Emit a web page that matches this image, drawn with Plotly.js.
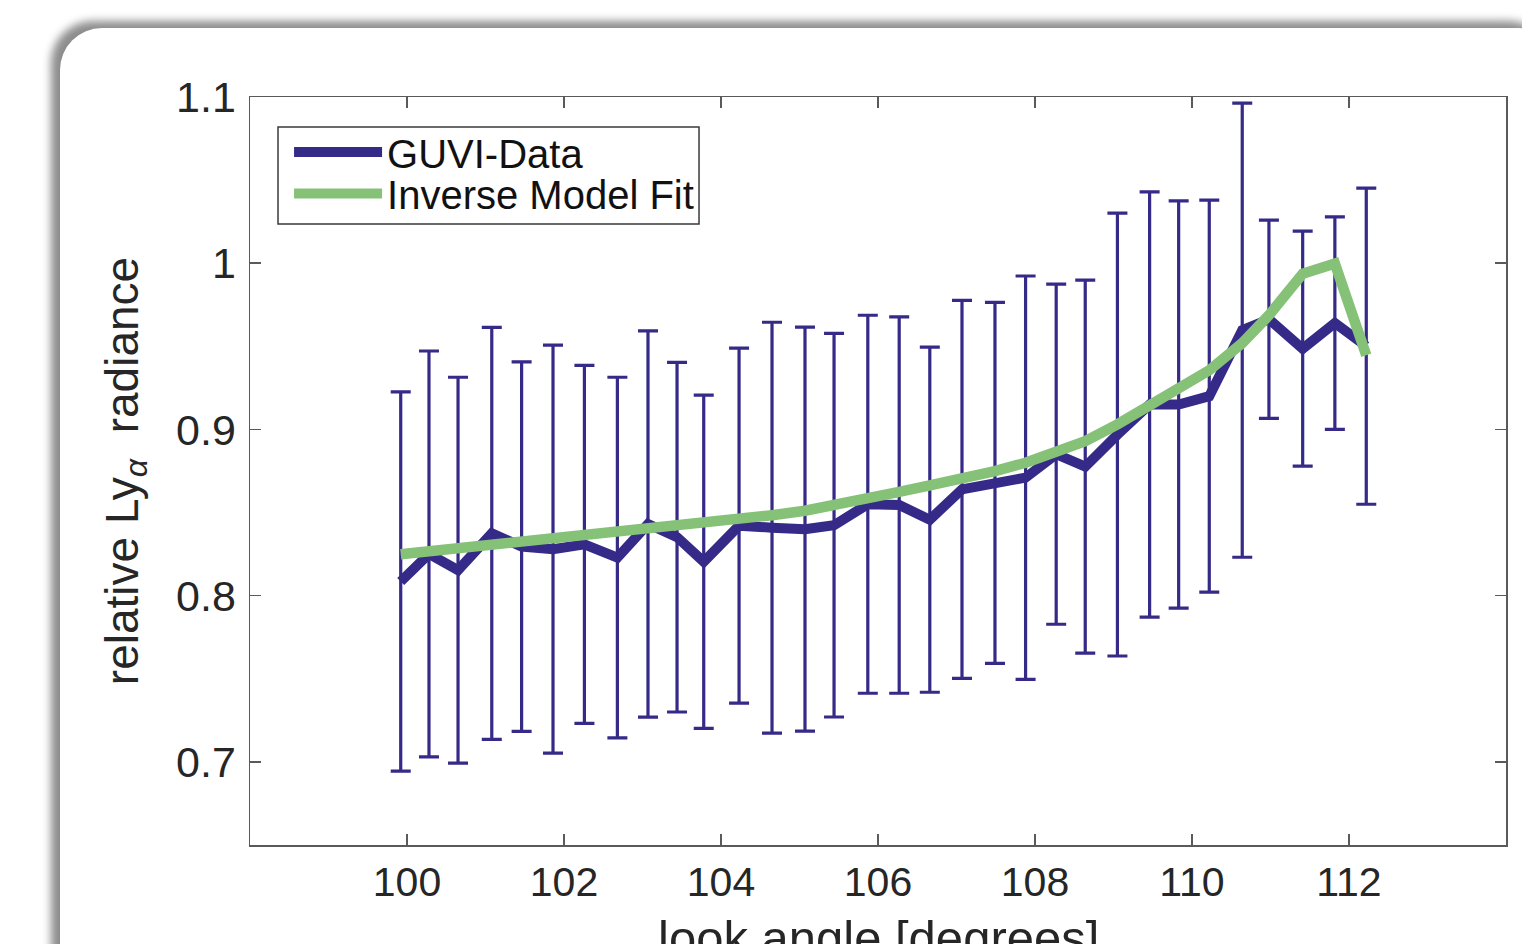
<!DOCTYPE html>
<html>
<head>
<meta charset="utf-8">
<script src="https://cdn.plot.ly/plotly-3.0.1.min.js"></script>
<style>
  html, body { margin: 0; padding: 0; background: #ffffff; width: 1522px; height: 944px; overflow: hidden; }
  #panel {
    position: absolute; left: 60px; top: 28px; width: 1500px; height: 1000px;
    background: #ffffff; border-radius: 42px;
    box-shadow: -9px -7px 9px rgba(0,0,0,0.45);
  }
  #chart { position: absolute; left: 0; top: 0; width: 1522px; height: 944px; }
</style>
</head>
<body>
<div id="panel"></div>
<div id="chart"></div>
<script>
// look angle [degrees]
const lookAngle = [99.92,100.28,100.65,101.08,101.46,101.86,102.26,102.68,103.07,103.44,103.78,104.23,104.65,105.07,105.44,105.87,106.27,106.66,107.07,107.49,107.88,108.27,108.64,109.05,109.46,109.83,110.22,110.64,110.98,111.41,111.82,112.22];
// GUVI data (relative Ly-alpha radiance) and its error
const guviData = [0.8085,0.8251,0.8153,0.8375,0.8295,0.8280,0.8309,0.8229,0.8431,0.8352,0.8204,0.8421,0.8409,0.8400,0.8424,0.8550,0.8545,0.8457,0.8640,0.8679,0.8710,0.8851,0.8776,0.8969,0.9150,0.9150,0.9200,0.9597,0.9663,0.9486,0.9640,0.9501];
const guviErr = [0.1141,0.1221,0.1161,0.1239,0.1111,0.1227,0.1077,0.1085,0.1162,0.1052,0.1002,0.1068,0.1236,0.1215,0.1154,0.1137,0.1132,0.1038,0.1137,0.1086,0.1213,0.1023,0.1122,0.1332,0.1279,0.1225,0.1179,0.1366,0.0596,0.0707,0.0639,0.0951];
// Inverse model fit
const modelFit = [0.8249,0.8267,0.8282,0.8300,0.8315,0.8333,0.8351,0.8372,0.8394,0.8412,0.8430,0.8454,0.8484,0.8511,0.8541,0.8583,0.8624,0.8664,0.8700,0.8749,0.8800,0.8869,0.8929,0.9031,0.9146,0.9236,0.9356,0.9519,0.9687,0.9937,0.9998,0.9446];

const xTickVals = [100,102,104,106,108,110,112];
const xTickText = ['100','102','104','106','108','110','112'];
const yTickVals = [0.7,0.8,0.9,1.0,1.1];
const yTickText = ['0.7','0.8','0.9','1','1.1'];

const seriesNames = ['GUVI-Data', 'Inverse Model Fit'];
const xTitle = 'look angle [degrees]';
const yTitle = 'relative Ly<sub><i>α</i></sub>\u00a0 radiance';

const BLUE = '#352a87';
const GREEN = '#86c178';
const FONT = 'Liberation Sans, Arial, Helvetica, sans-serif';
const AXC = '#5a5a5a';
const TXT = '#262626';

const traces = [
  {
    x: lookAngle, y: guviData, type: 'scatter', mode: 'lines', name: seriesNames[0],
    legend: 'legend',
    line: { color: BLUE, width: 10 },
    error_y: { type: 'data', array: guviErr, visible: true, color: BLUE, thickness: 3.2, width: 10 }
  },
  {
    x: lookAngle, y: modelFit, type: 'scatter', mode: 'lines', name: seriesNames[1],
    legend: 'legend2',
    line: { color: GREEN, width: 10.5 }
  }
];

const legendCommon = {
  xanchor: 'left', yanchor: 'middle',
  bgcolor: 'rgba(0,0,0,0)', borderwidth: 0,
  font: { family: FONT, size: 40, color: '#111111' },
  itemwidth: 88
};

const layout = {
  width: 1522, height: 944,
  margin: { l: 250, r: 16, t: 97, b: 99, pad: 0 },
  paper_bgcolor: 'rgba(0,0,0,0)',
  plot_bgcolor: 'rgba(0,0,0,0)',
  font: { family: FONT, color: TXT, size: 40 },
  showlegend: true,
  legend: Object.assign({ x: 0.0311, y: 0.9265 }, legendCommon),
  legend2: Object.assign({ x: 0.0311, y: 0.871 }, legendCommon),
  shapes: [
    { type: 'rect', xref: 'paper', yref: 'paper', x0: 0.0223, x1: 0.3575, y0: 0.8302, y1: 0.9599,
      fillcolor: '#ffffff', line: { color: '#3a3a3a', width: 1.5 }, layer: 'above' }
  ],
  annotations: [
    { text: xTitle, xref: 'paper', yref: 'paper', x: 0.5, y: 0, xanchor: 'center', yanchor: 'top',
      yshift: -64, showarrow: false, font: { family: FONT, size: 49, color: TXT } }
  ],
  xaxis: {
    range: [98, 114], tickmode: 'array', tickvals: xTickVals, ticktext: xTickText,
    ticks: 'inside', ticklen: 11, tickwidth: 1.5, tickcolor: AXC,
    showline: true, linecolor: AXC, linewidth: 1.5, mirror: 'ticks',
    showgrid: false, zeroline: false,
    tickfont: { family: FONT, size: 41, color: TXT },
    ticklabelstandoff: 0
  },
  yaxis: {
    range: [0.65, 1.1], tickmode: 'array', tickvals: yTickVals, ticktext: yTickText,
    ticks: 'inside', ticklen: 11, tickwidth: 1.5, tickcolor: AXC,
    showline: true, linecolor: AXC, linewidth: 1.5, mirror: 'ticks',
    showgrid: false, zeroline: false,
    tickfont: { family: FONT, size: 43, color: TXT },
    ticklabelstandoff: 4,
    title: { text: yTitle, font: { family: FONT, size: 46, color: TXT }, standoff: 23 }
  }
};

Plotly.newPlot('chart', traces, layout, { displayModeBar: false, staticPlot: true });
</script>
</body>
</html>
